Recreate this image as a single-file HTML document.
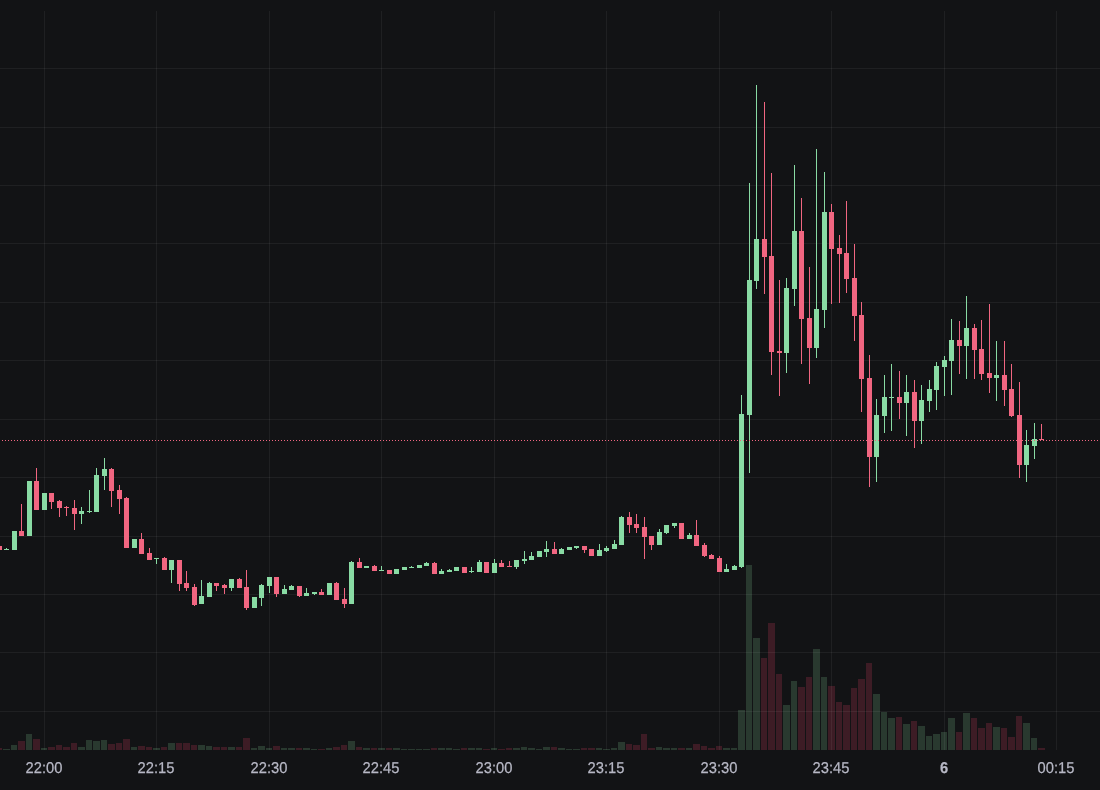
<!DOCTYPE html>
<html><head><meta charset="utf-8"><title>Chart</title>
<style>
html,body{margin:0;padding:0;background:#121315;}
body{width:1100px;height:790px;position:relative;overflow:hidden;font-family:"Liberation Sans",sans-serif;}
.lb{position:absolute;top:759.5px;width:80px;text-align:center;color:#b7b8c5;font-size:15.6px;line-height:18px;letter-spacing:0px;white-space:nowrap;text-rendering:geometricPrecision;transform:scale(0.942,1);transform-origin:50% 50%;-webkit-text-stroke:0.25px #b7b8c5;}
.lb.b{font-weight:bold;}
</style></head><body>
<svg width="1100" height="790" viewBox="0 0 1100 790" shape-rendering="crispEdges" style="position:absolute;left:0;top:0">
<g fill="#29392f" fill-opacity="1">
<rect x="3" y="749" width="7" height="1"/>
<rect x="11" y="745" width="6" height="5"/>
<rect x="26" y="734" width="6" height="16"/>
<rect x="41" y="748" width="6" height="2"/>
<rect x="78" y="747" width="7" height="3"/>
<rect x="86" y="740" width="6" height="10"/>
<rect x="93" y="741" width="7" height="9"/>
<rect x="101" y="740" width="6" height="10"/>
<rect x="131" y="747" width="6" height="3"/>
<rect x="153" y="748" width="7" height="2"/>
<rect x="168" y="743" width="7" height="7"/>
<rect x="198" y="745" width="7" height="5"/>
<rect x="206" y="746" width="6" height="4"/>
<rect x="228" y="747" width="7" height="3"/>
<rect x="251" y="748" width="6" height="2"/>
<rect x="258" y="746" width="7" height="4"/>
<rect x="266" y="748" width="6" height="2"/>
<rect x="281" y="748" width="6" height="2"/>
<rect x="288" y="748" width="7" height="2"/>
<rect x="303" y="748" width="7" height="2"/>
<rect x="311" y="749" width="6" height="1"/>
<rect x="326" y="748" width="6" height="2"/>
<rect x="348" y="741" width="7" height="9"/>
<rect x="363" y="748" width="7" height="2"/>
<rect x="378" y="748" width="7" height="2"/>
<rect x="393" y="748" width="7" height="2"/>
<rect x="401" y="749" width="6" height="1"/>
<rect x="408" y="749" width="7" height="1"/>
<rect x="416" y="749" width="6" height="1"/>
<rect x="423" y="749" width="7" height="1"/>
<rect x="438" y="748" width="7" height="2"/>
<rect x="446" y="748" width="6" height="2"/>
<rect x="453" y="749" width="7" height="1"/>
<rect x="468" y="748" width="7" height="2"/>
<rect x="476" y="748" width="6" height="2"/>
<rect x="491" y="748" width="6" height="2"/>
<rect x="513" y="748" width="7" height="2"/>
<rect x="521" y="747" width="6" height="3"/>
<rect x="528" y="748" width="7" height="2"/>
<rect x="536" y="749" width="6" height="1"/>
<rect x="543" y="747" width="7" height="3"/>
<rect x="558" y="748" width="7" height="2"/>
<rect x="566" y="749" width="6" height="1"/>
<rect x="573" y="749" width="7" height="1"/>
<rect x="596" y="748" width="6" height="2"/>
<rect x="603" y="749" width="7" height="1"/>
<rect x="611" y="748" width="6" height="2"/>
<rect x="618" y="742" width="7" height="8"/>
<rect x="656" y="747" width="6" height="3"/>
<rect x="663" y="748" width="7" height="2"/>
<rect x="671" y="748" width="6" height="2"/>
<rect x="686" y="748" width="6" height="2"/>
<rect x="723" y="748" width="7" height="2"/>
<rect x="731" y="748" width="6" height="2"/>
<rect x="738" y="710" width="7" height="40"/>
<rect x="746" y="565" width="6" height="185"/>
<rect x="753" y="638" width="7" height="112"/>
<rect x="783" y="705" width="7" height="45"/>
<rect x="791" y="681" width="6" height="69"/>
<rect x="813" y="649" width="7" height="101"/>
<rect x="821" y="677" width="6" height="73"/>
<rect x="873" y="694" width="7" height="56"/>
<rect x="881" y="712" width="6" height="38"/>
<rect x="888" y="718" width="7" height="32"/>
<rect x="903" y="724" width="7" height="26"/>
<rect x="918" y="726" width="7" height="24"/>
<rect x="926" y="736" width="6" height="14"/>
<rect x="933" y="734" width="7" height="16"/>
<rect x="941" y="732" width="6" height="18"/>
<rect x="948" y="718" width="7" height="32"/>
<rect x="963" y="713" width="7" height="37"/>
<rect x="993" y="727" width="7" height="23"/>
<rect x="1023" y="723" width="7" height="27"/>
<rect x="1031" y="738" width="6" height="12"/>
</g>
<g fill="#3d1c25" fill-opacity="1">
<rect x="0" y="748" width="2" height="2"/>
<rect x="18" y="741" width="7" height="9"/>
<rect x="33" y="739" width="7" height="11"/>
<rect x="48" y="747" width="7" height="3"/>
<rect x="56" y="745" width="6" height="5"/>
<rect x="63" y="747" width="7" height="3"/>
<rect x="71" y="743" width="6" height="7"/>
<rect x="108" y="744" width="7" height="6"/>
<rect x="116" y="743" width="6" height="7"/>
<rect x="123" y="739" width="7" height="11"/>
<rect x="138" y="746" width="7" height="4"/>
<rect x="146" y="747" width="6" height="3"/>
<rect x="161" y="747" width="6" height="3"/>
<rect x="176" y="743" width="6" height="7"/>
<rect x="183" y="743" width="7" height="7"/>
<rect x="191" y="745" width="6" height="5"/>
<rect x="213" y="747" width="7" height="3"/>
<rect x="221" y="747" width="6" height="3"/>
<rect x="236" y="747" width="6" height="3"/>
<rect x="243" y="738" width="7" height="12"/>
<rect x="273" y="746" width="7" height="4"/>
<rect x="296" y="748" width="6" height="2"/>
<rect x="318" y="749" width="7" height="1"/>
<rect x="333" y="747" width="7" height="3"/>
<rect x="341" y="745" width="6" height="5"/>
<rect x="356" y="747" width="6" height="3"/>
<rect x="371" y="748" width="6" height="2"/>
<rect x="386" y="748" width="6" height="2"/>
<rect x="431" y="748" width="6" height="2"/>
<rect x="461" y="748" width="6" height="2"/>
<rect x="483" y="749" width="7" height="1"/>
<rect x="498" y="749" width="7" height="1"/>
<rect x="506" y="748" width="6" height="2"/>
<rect x="551" y="747" width="6" height="3"/>
<rect x="581" y="748" width="6" height="2"/>
<rect x="588" y="748" width="7" height="2"/>
<rect x="626" y="744" width="6" height="6"/>
<rect x="633" y="745" width="7" height="5"/>
<rect x="641" y="734" width="6" height="16"/>
<rect x="648" y="748" width="7" height="2"/>
<rect x="678" y="748" width="7" height="2"/>
<rect x="693" y="744" width="7" height="6"/>
<rect x="701" y="746" width="6" height="4"/>
<rect x="708" y="748" width="7" height="2"/>
<rect x="716" y="746" width="6" height="4"/>
<rect x="761" y="658" width="6" height="92"/>
<rect x="768" y="623" width="7" height="127"/>
<rect x="776" y="674" width="6" height="76"/>
<rect x="798" y="687" width="7" height="63"/>
<rect x="806" y="677" width="6" height="73"/>
<rect x="828" y="686" width="7" height="64"/>
<rect x="836" y="702" width="6" height="48"/>
<rect x="843" y="705" width="7" height="45"/>
<rect x="851" y="688" width="6" height="62"/>
<rect x="858" y="679" width="7" height="71"/>
<rect x="866" y="663" width="6" height="87"/>
<rect x="896" y="717" width="6" height="33"/>
<rect x="911" y="721" width="6" height="29"/>
<rect x="956" y="732" width="6" height="18"/>
<rect x="971" y="718" width="6" height="32"/>
<rect x="978" y="728" width="7" height="22"/>
<rect x="986" y="723" width="6" height="27"/>
<rect x="1001" y="728" width="6" height="22"/>
<rect x="1008" y="737" width="7" height="13"/>
<rect x="1016" y="716" width="6" height="34"/>
<rect x="1038" y="748" width="7" height="2"/>
</g>
<g fill="#ffffff" fill-opacity="0.06">
<rect x="44" y="11" width="1" height="739"/>
<rect x="156" y="11" width="1" height="739"/>
<rect x="269" y="11" width="1" height="739"/>
<rect x="381" y="11" width="1" height="739"/>
<rect x="494" y="11" width="1" height="739"/>
<rect x="606" y="11" width="1" height="739"/>
<rect x="719" y="11" width="1" height="739"/>
<rect x="831" y="11" width="1" height="739"/>
<rect x="944" y="11" width="1" height="739"/>
<rect x="1056" y="11" width="1" height="739"/>
<rect x="0" y="68" width="1100" height="1"/>
<rect x="0" y="127" width="1100" height="1"/>
<rect x="0" y="185" width="1100" height="1"/>
<rect x="0" y="243" width="1100" height="1"/>
<rect x="0" y="302" width="1100" height="1"/>
<rect x="0" y="360" width="1100" height="1"/>
<rect x="0" y="419" width="1100" height="1"/>
<rect x="0" y="477" width="1100" height="1"/>
<rect x="0" y="536" width="1100" height="1"/>
<rect x="0" y="594" width="1100" height="1"/>
<rect x="0" y="652" width="1100" height="1"/>
<rect x="0" y="711" width="1100" height="1"/>
</g>
<g fill="#89dba4">
<rect x="6" y="548" width="1" height="2"/>
<rect x="4" y="549" width="5" height="1"/>
<rect x="12" y="531" width="5" height="19"/>
<rect x="27" y="481" width="5" height="55"/>
<rect x="42" y="493" width="5" height="17"/>
<rect x="81" y="507" width="1" height="17"/>
<rect x="79" y="511" width="5" height="3"/>
<rect x="89" y="490" width="1" height="23"/>
<rect x="87" y="511" width="5" height="1"/>
<rect x="96" y="468" width="1" height="44"/>
<rect x="94" y="475" width="5" height="37"/>
<rect x="104" y="458" width="1" height="32"/>
<rect x="102" y="469" width="5" height="7"/>
<rect x="132" y="539" width="5" height="9"/>
<rect x="156" y="558" width="1" height="6"/>
<rect x="154" y="558" width="5" height="1"/>
<rect x="171" y="560" width="1" height="23"/>
<rect x="169" y="560" width="5" height="10"/>
<rect x="201" y="580" width="1" height="24"/>
<rect x="199" y="596" width="5" height="8"/>
<rect x="209" y="582" width="1" height="15"/>
<rect x="207" y="583" width="5" height="14"/>
<rect x="231" y="579" width="1" height="12"/>
<rect x="229" y="579" width="5" height="9"/>
<rect x="252" y="597" width="5" height="11"/>
<rect x="261" y="584" width="1" height="22"/>
<rect x="259" y="585" width="5" height="13"/>
<rect x="269" y="577" width="1" height="16"/>
<rect x="267" y="577" width="5" height="9"/>
<rect x="284" y="585" width="1" height="9"/>
<rect x="282" y="589" width="5" height="5"/>
<rect x="291" y="585" width="1" height="5"/>
<rect x="289" y="586" width="5" height="4"/>
<rect x="306" y="588" width="1" height="8"/>
<rect x="304" y="593" width="5" height="3"/>
<rect x="314" y="592" width="1" height="3"/>
<rect x="312" y="592" width="5" height="2"/>
<rect x="327" y="583" width="5" height="12"/>
<rect x="351" y="561" width="1" height="43"/>
<rect x="349" y="562" width="5" height="42"/>
<rect x="364" y="566" width="5" height="2"/>
<rect x="381" y="566" width="1" height="5"/>
<rect x="379" y="570" width="5" height="1"/>
<rect x="394" y="569" width="5" height="5"/>
<rect x="402" y="567" width="5" height="3"/>
<rect x="411" y="566" width="1" height="2"/>
<rect x="409" y="567" width="5" height="1"/>
<rect x="417" y="565" width="5" height="3"/>
<rect x="426" y="562" width="1" height="4"/>
<rect x="424" y="563" width="5" height="3"/>
<rect x="441" y="569" width="1" height="5"/>
<rect x="439" y="571" width="5" height="3"/>
<rect x="449" y="569" width="1" height="3"/>
<rect x="447" y="570" width="5" height="2"/>
<rect x="454" y="567" width="5" height="4"/>
<rect x="471" y="567" width="1" height="6"/>
<rect x="469" y="571" width="5" height="1"/>
<rect x="479" y="560" width="1" height="12"/>
<rect x="477" y="562" width="5" height="10"/>
<rect x="494" y="559" width="1" height="14"/>
<rect x="492" y="563" width="5" height="10"/>
<rect x="516" y="560" width="1" height="9"/>
<rect x="514" y="560" width="5" height="7"/>
<rect x="524" y="551" width="1" height="13"/>
<rect x="522" y="559" width="5" height="2"/>
<rect x="531" y="552" width="1" height="8"/>
<rect x="529" y="556" width="5" height="4"/>
<rect x="537" y="551" width="5" height="6"/>
<rect x="546" y="541" width="1" height="16"/>
<rect x="544" y="549" width="5" height="3"/>
<rect x="561" y="548" width="1" height="6"/>
<rect x="559" y="549" width="5" height="5"/>
<rect x="567" y="547" width="5" height="3"/>
<rect x="576" y="546" width="1" height="3"/>
<rect x="574" y="546" width="5" height="2"/>
<rect x="599" y="544" width="1" height="12"/>
<rect x="597" y="550" width="5" height="6"/>
<rect x="606" y="546" width="1" height="6"/>
<rect x="604" y="548" width="5" height="3"/>
<rect x="614" y="540" width="1" height="9"/>
<rect x="612" y="544" width="5" height="5"/>
<rect x="621" y="516" width="1" height="29"/>
<rect x="619" y="517" width="5" height="28"/>
<rect x="659" y="529" width="1" height="16"/>
<rect x="657" y="532" width="5" height="13"/>
<rect x="666" y="525" width="1" height="9"/>
<rect x="664" y="525" width="5" height="8"/>
<rect x="674" y="523" width="1" height="5"/>
<rect x="672" y="523" width="5" height="3"/>
<rect x="689" y="533" width="1" height="6"/>
<rect x="687" y="535" width="5" height="4"/>
<rect x="726" y="564" width="1" height="8"/>
<rect x="724" y="569" width="5" height="3"/>
<rect x="734" y="565" width="1" height="5"/>
<rect x="732" y="566" width="5" height="4"/>
<rect x="741" y="395" width="1" height="173"/>
<rect x="739" y="414" width="5" height="153"/>
<rect x="749" y="183" width="1" height="290"/>
<rect x="747" y="280" width="5" height="135"/>
<rect x="756" y="85" width="1" height="204"/>
<rect x="754" y="239" width="5" height="42"/>
<rect x="786" y="278" width="1" height="95"/>
<rect x="784" y="288" width="5" height="65"/>
<rect x="794" y="165" width="1" height="141"/>
<rect x="792" y="231" width="5" height="58"/>
<rect x="816" y="149" width="1" height="209"/>
<rect x="814" y="309" width="5" height="39"/>
<rect x="824" y="172" width="1" height="156"/>
<rect x="822" y="212" width="5" height="98"/>
<rect x="876" y="399" width="1" height="83"/>
<rect x="874" y="415" width="5" height="42"/>
<rect x="884" y="375" width="1" height="58"/>
<rect x="882" y="397" width="5" height="19"/>
<rect x="891" y="364" width="1" height="67"/>
<rect x="889" y="397" width="5" height="1"/>
<rect x="906" y="375" width="1" height="61"/>
<rect x="904" y="392" width="5" height="11"/>
<rect x="921" y="385" width="1" height="59"/>
<rect x="919" y="400" width="5" height="21"/>
<rect x="929" y="380" width="1" height="32"/>
<rect x="927" y="389" width="5" height="12"/>
<rect x="936" y="362" width="1" height="48"/>
<rect x="934" y="366" width="5" height="24"/>
<rect x="944" y="356" width="1" height="40"/>
<rect x="942" y="360" width="5" height="7"/>
<rect x="951" y="319" width="1" height="76"/>
<rect x="949" y="340" width="5" height="21"/>
<rect x="966" y="296" width="1" height="83"/>
<rect x="964" y="328" width="5" height="18"/>
<rect x="996" y="341" width="1" height="60"/>
<rect x="994" y="375" width="5" height="3"/>
<rect x="1026" y="430" width="1" height="52"/>
<rect x="1024" y="445" width="5" height="20"/>
<rect x="1034" y="423" width="1" height="36"/>
<rect x="1032" y="439" width="5" height="7"/>
</g>
<g fill="#f16681">
<rect x="0" y="546" width="2" height="4"/>
<rect x="21" y="504" width="1" height="32"/>
<rect x="19" y="531" width="5" height="5"/>
<rect x="36" y="468" width="1" height="42"/>
<rect x="34" y="481" width="5" height="29"/>
<rect x="51" y="493" width="1" height="16"/>
<rect x="49" y="493" width="5" height="9"/>
<rect x="59" y="500" width="1" height="17"/>
<rect x="57" y="501" width="5" height="7"/>
<rect x="66" y="506" width="1" height="10"/>
<rect x="64" y="507" width="5" height="1"/>
<rect x="74" y="500" width="1" height="30"/>
<rect x="72" y="508" width="5" height="6"/>
<rect x="111" y="468" width="1" height="39"/>
<rect x="109" y="469" width="5" height="22"/>
<rect x="119" y="485" width="1" height="29"/>
<rect x="117" y="490" width="5" height="9"/>
<rect x="126" y="497" width="1" height="51"/>
<rect x="124" y="498" width="5" height="50"/>
<rect x="141" y="533" width="1" height="21"/>
<rect x="139" y="539" width="5" height="15"/>
<rect x="149" y="548" width="1" height="12"/>
<rect x="147" y="553" width="5" height="7"/>
<rect x="164" y="557" width="1" height="13"/>
<rect x="162" y="558" width="5" height="12"/>
<rect x="179" y="560" width="1" height="31"/>
<rect x="177" y="560" width="5" height="24"/>
<rect x="186" y="571" width="1" height="20"/>
<rect x="184" y="583" width="5" height="5"/>
<rect x="194" y="584" width="1" height="22"/>
<rect x="192" y="587" width="5" height="18"/>
<rect x="216" y="583" width="1" height="8"/>
<rect x="214" y="583" width="5" height="3"/>
<rect x="224" y="584" width="1" height="10"/>
<rect x="222" y="585" width="5" height="3"/>
<rect x="239" y="578" width="1" height="10"/>
<rect x="237" y="579" width="5" height="9"/>
<rect x="246" y="570" width="1" height="40"/>
<rect x="244" y="587" width="5" height="21"/>
<rect x="276" y="577" width="1" height="20"/>
<rect x="274" y="577" width="5" height="17"/>
<rect x="299" y="586" width="1" height="11"/>
<rect x="297" y="586" width="5" height="10"/>
<rect x="321" y="589" width="1" height="6"/>
<rect x="319" y="592" width="5" height="3"/>
<rect x="336" y="582" width="1" height="18"/>
<rect x="334" y="583" width="5" height="17"/>
<rect x="344" y="588" width="1" height="20"/>
<rect x="342" y="599" width="5" height="5"/>
<rect x="359" y="558" width="1" height="10"/>
<rect x="357" y="562" width="5" height="6"/>
<rect x="374" y="565" width="1" height="6"/>
<rect x="372" y="566" width="5" height="5"/>
<rect x="387" y="570" width="5" height="4"/>
<rect x="434" y="562" width="1" height="12"/>
<rect x="432" y="563" width="5" height="11"/>
<rect x="462" y="567" width="5" height="6"/>
<rect x="484" y="562" width="5" height="11"/>
<rect x="501" y="560" width="1" height="7"/>
<rect x="499" y="563" width="5" height="4"/>
<rect x="509" y="561" width="1" height="6"/>
<rect x="507" y="566" width="5" height="1"/>
<rect x="554" y="542" width="1" height="12"/>
<rect x="552" y="549" width="5" height="5"/>
<rect x="584" y="546" width="1" height="7"/>
<rect x="582" y="546" width="5" height="4"/>
<rect x="589" y="549" width="5" height="7"/>
<rect x="629" y="512" width="1" height="21"/>
<rect x="627" y="517" width="5" height="8"/>
<rect x="636" y="514" width="1" height="19"/>
<rect x="634" y="524" width="5" height="4"/>
<rect x="644" y="517" width="1" height="42"/>
<rect x="642" y="527" width="5" height="10"/>
<rect x="651" y="536" width="1" height="14"/>
<rect x="649" y="536" width="5" height="9"/>
<rect x="679" y="523" width="5" height="16"/>
<rect x="696" y="520" width="1" height="26"/>
<rect x="694" y="535" width="5" height="11"/>
<rect x="704" y="543" width="1" height="14"/>
<rect x="702" y="545" width="5" height="11"/>
<rect x="711" y="554" width="1" height="5"/>
<rect x="709" y="555" width="5" height="4"/>
<rect x="719" y="556" width="1" height="16"/>
<rect x="717" y="558" width="5" height="14"/>
<rect x="764" y="102" width="1" height="192"/>
<rect x="762" y="239" width="5" height="18"/>
<rect x="771" y="173" width="1" height="202"/>
<rect x="769" y="256" width="5" height="96"/>
<rect x="779" y="280" width="1" height="116"/>
<rect x="777" y="351" width="5" height="2"/>
<rect x="801" y="198" width="1" height="166"/>
<rect x="799" y="231" width="5" height="88"/>
<rect x="809" y="267" width="1" height="117"/>
<rect x="807" y="318" width="5" height="30"/>
<rect x="831" y="204" width="1" height="100"/>
<rect x="829" y="212" width="5" height="37"/>
<rect x="839" y="235" width="1" height="68"/>
<rect x="837" y="248" width="5" height="6"/>
<rect x="846" y="201" width="1" height="92"/>
<rect x="844" y="253" width="5" height="26"/>
<rect x="854" y="244" width="1" height="97"/>
<rect x="852" y="278" width="5" height="38"/>
<rect x="861" y="302" width="1" height="110"/>
<rect x="859" y="315" width="5" height="64"/>
<rect x="869" y="355" width="1" height="132"/>
<rect x="867" y="378" width="5" height="79"/>
<rect x="899" y="371" width="1" height="48"/>
<rect x="897" y="397" width="5" height="6"/>
<rect x="914" y="380" width="1" height="68"/>
<rect x="912" y="392" width="5" height="29"/>
<rect x="959" y="321" width="1" height="53"/>
<rect x="957" y="340" width="5" height="6"/>
<rect x="974" y="324" width="1" height="55"/>
<rect x="972" y="328" width="5" height="22"/>
<rect x="981" y="320" width="1" height="60"/>
<rect x="979" y="349" width="5" height="25"/>
<rect x="989" y="304" width="1" height="89"/>
<rect x="987" y="373" width="5" height="5"/>
<rect x="1004" y="341" width="1" height="65"/>
<rect x="1002" y="375" width="5" height="15"/>
<rect x="1011" y="364" width="1" height="53"/>
<rect x="1009" y="389" width="5" height="27"/>
<rect x="1019" y="382" width="1" height="96"/>
<rect x="1017" y="415" width="5" height="50"/>
<rect x="1041" y="424" width="1" height="16"/>
<rect x="1039" y="439" width="5" height="1"/>
</g>
<line x1="0" y1="440.5" x2="1100" y2="440.5" stroke="#f16681" stroke-width="1" stroke-dasharray="1 2" stroke-dashoffset="1"/>
</svg>
<div class="lb" style="left:3.5px">22:00</div>
<div class="lb" style="left:116.0px">22:15</div>
<div class="lb" style="left:228.5px">22:30</div>
<div class="lb" style="left:341.0px">22:45</div>
<div class="lb" style="left:453.5px">23:00</div>
<div class="lb" style="left:566.0px">23:15</div>
<div class="lb" style="left:678.5px">23:30</div>
<div class="lb" style="left:791.0px">23:45</div>
<div class="lb b" style="left:903.5px">6</div>
<div class="lb" style="left:1016.0px">00:15</div>
</body></html>
